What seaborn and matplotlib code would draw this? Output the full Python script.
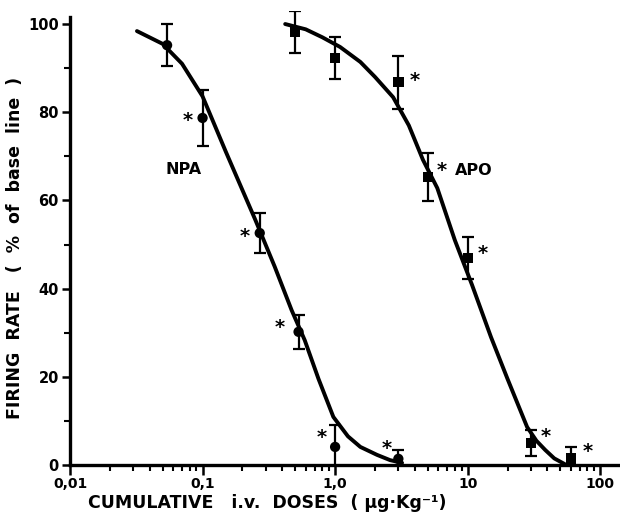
import matplotlib
matplotlib.use("Agg")
import matplotlib.pyplot as plt
import seaborn as sns
import pandas as pd
import numpy as np

# ---- data ----
npa_dose = [0.054, 0.1, 0.27, 0.53, 1.0, 3.0]
npa_rate = [95.2, 78.7, 52.6, 30.2, 4.1, 1.4]
npa_err = [4.8, 6.3, 4.5, 3.8, 5.0, 2.0]
npa_star = [False, True, True, True, True, True]

apo_dose = [0.5, 1.0, 3.0, 5.0, 10.0, 30.0, 60.0]
apo_rate = [98.2, 92.3, 86.8, 65.3, 46.9, 5.0, 1.5]
apo_err = [4.7, 4.8, 6.0, 5.4, 4.7, 3.0, 2.5]
apo_star = [False, False, True, True, True, True, True]

npa_curve_x = [0.032, 0.05, 0.07, 0.1, 0.15, 0.25, 0.35, 0.47, 0.59, 0.75,
               0.97, 1.25, 1.55, 2.07, 2.6, 3.2]
npa_curve_y = [98.4, 95.5, 91.0, 83.6, 71.0, 55.6, 45.0, 35.1, 28.3, 19.5,
               10.9, 6.5, 4.1, 2.3, 1.1, 0.5]
apo_curve_x = [0.42, 0.6, 0.8, 1.09, 1.55, 2.0, 2.74, 3.6, 4.6, 5.9, 8.0,
               10.8, 15.0, 20.0, 28.1, 33.0, 38.5, 45.0, 54.0]
apo_curve_y = [100.0, 98.8, 97.0, 94.8, 91.4, 88.0, 83.4, 77.0, 69.2, 62.8,
               51.0, 40.8, 29.0, 19.5, 8.6, 5.5, 3.4, 1.5, 0.2]

x_ticks = [0.01, 0.1, 1.0, 10, 100]
x_ticklabels = ["0,01", "0,1", "1,0", "10", "100"]
y_ticks = [0, 20, 40, 60, 80, 100]
y_ticklabels = ["0", "20", "40", "60", "80", "100"]

# ---- styling ----
sns.set_style("ticks")
plt.rcParams["font.family"] = ["DejaVu Sans"]
plt.rcParams["font.weight"] = "bold"
for k in ("text.color", "axes.labelcolor", "xtick.color", "ytick.color", "axes.edgecolor"):
    plt.rcParams[k] = "black"

fig = plt.figure(figsize=(6.2, 5.16), dpi=100)
ax = fig.add_axes([70 / 620, 51 / 516, 550 / 620, 454.2 / 516])

curves = pd.concat([
    pd.DataFrame({"dose": npa_curve_x, "rate": npa_curve_y, "drug": "NPA"}),
    pd.DataFrame({"dose": apo_curve_x, "rate": apo_curve_y, "drug": "APO"}),
])
sns.lineplot(data=curves, x="dose", y="rate", units="drug", estimator=None,
             color="black", lw=2.8, sort=False, ax=ax, legend=False)

pts = pd.concat([
    pd.DataFrame({"dose": npa_dose, "rate": npa_rate, "err": npa_err, "drug": "NPA"}),
    pd.DataFrame({"dose": apo_dose, "rate": apo_rate, "err": apo_err, "drug": "APO"}),
])
for drug, sub in pts.groupby("drug"):
    ax.errorbar(sub["dose"], sub["rate"], yerr=sub["err"], fmt="none",
                ecolor="black", elinewidth=1.6, capsize=4, capthick=1.6, zorder=4)
sns.scatterplot(data=pts, x="dose", y="rate", style="drug",
                markers={"NPA": "o", "APO": "s"}, color="black", s=55,
                edgecolor="black", linewidth=0, legend=False, ax=ax, zorder=5)

# significance stars
star_kw = dict(textcoords="offset pixels", fontsize=14, fontweight="bold",
               ha="center", va="center", annotation_clip=False)
npa_offsets = [None, (-15, 0), (-15, 0), (-19, 7), (-13, 12), (-12, 13)]
for d, r, s, off in zip(npa_dose, npa_rate, npa_star, npa_offsets):
    if s:
        ax.annotate("*", xy=(d, r), xytext=(off[0], off[1] - 3), **star_kw)
apo_offsets = [None, None, (16, 5), (14, 10), (15, 8), (15, 9), (17, 10)]
for d, r, s, off in zip(apo_dose, apo_rate, apo_star, apo_offsets):
    if s:
        ax.annotate("*", xy=(d, r), xytext=(off[0], off[1] - 3), **star_kw)

ax.text(0.072, 66.9, "NPA", fontsize=11.5, fontweight="bold", ha="center", va="center")
ax.text(8.05, 66.7, "APO", fontsize=11.5, fontweight="bold", ha="left", va="center")

# axes
ax.set_xscale("log")
ax.set_xlim(0.01, 141)
ax.set_ylim(0, 103)
ax.spines["top"].set_visible(False)
ax.spines["right"].set_visible(False)
for sp in ("left", "bottom"):
    ax.spines[sp].set_linewidth(2.4)
ax.spines["left"].set_bounds(0, 101.6)

ax.set_xticks(x_ticks)
ax.set_xticklabels(x_ticklabels, fontsize=10, fontweight="bold")
ax.set_yticks(y_ticks)
ax.set_yticklabels(y_ticklabels, fontsize=10.5, fontweight="bold")
ax.set_yticks([10, 30, 50, 70, 90], minor=True)
ax.tick_params(axis="both", which="major", direction="out", length=7, width=1.8, pad=2)
ax.tick_params(axis="both", which="minor", direction="out", length=4.5, width=1.5)
ax.tick_params(axis="y", which="major", length=6)

ax.set_xlabel("")
ax.set_ylabel("")
fig.text(15 / 620, 1 - 248 / 516, "FIRING  RATE   (  %  of  base  line  )", rotation=90,
         fontsize=12.5, fontweight="bold", ha="center", va="center")
fig.text(88 / 620, 1 - 503 / 516, "CUMULATIVE   i.v.  DOSES  ( \u03bcg\u00b7Kg\u207b\u00b9)",
         fontsize=12.5, fontweight="bold", ha="left", va="center")

fig.savefig("out.png", dpi=100, facecolor="white")
